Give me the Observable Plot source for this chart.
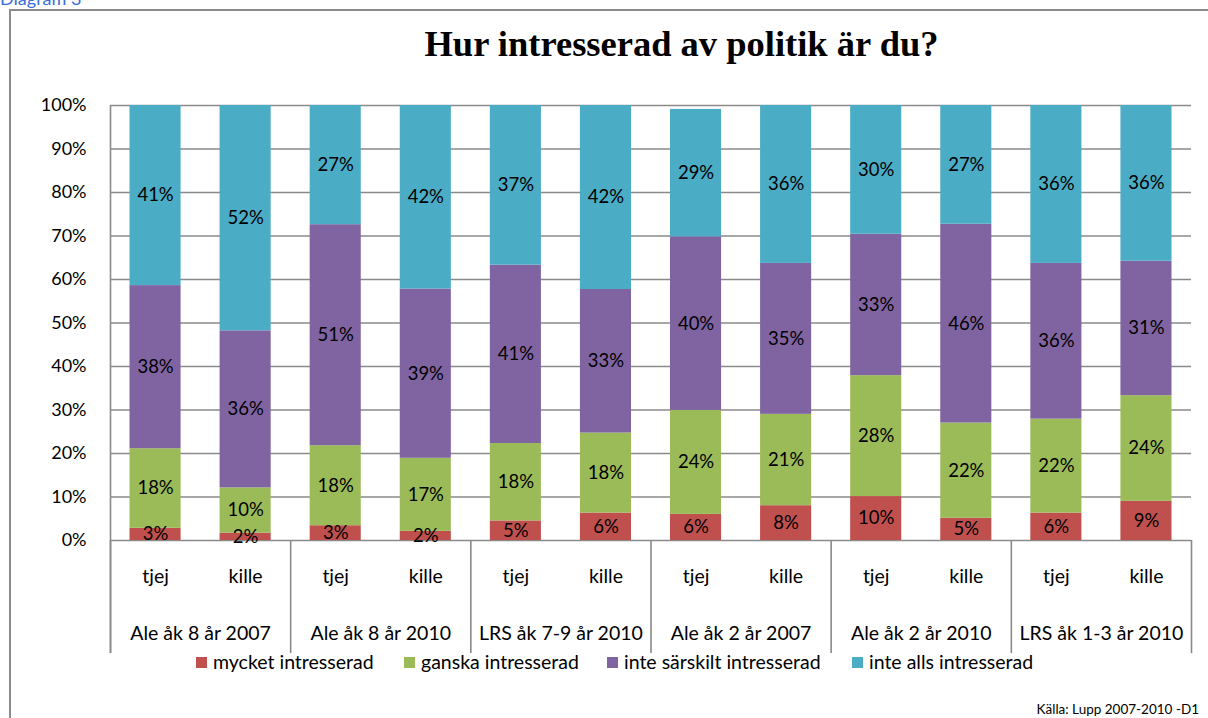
<!DOCTYPE html>
<html>
<head>
<meta charset="utf-8">
<script src="https://cdn.jsdelivr.net/npm/d3@7"></script>
<script src="https://cdn.jsdelivr.net/npm/@observablehq/plot@0.6"></script>
<style>
  html, body { margin: 0; padding: 0; background: #fff; }
  #wrap { position: relative; width: 1208px; height: 718px; overflow: hidden; font-family: Lato, sans-serif; color: #000; }
  #chart { position: absolute; left: 0; top: 0; }
  #frame { position: absolute; left: 9px; top: 9px; width: 1400px; height: 900px; border: 2px solid #8c8c8c; box-sizing: border-box; pointer-events: none; }
  #diag { position: absolute; left: 0px; top: -11px; font-size: 18px; color: #3b6fd8; line-height: 1; white-space: nowrap; }
  #title { position: absolute; left: 0; width: 1363px; top: 26px; text-align: center; font-family: "Liberation Serif", "DejaVu Serif", serif; font-weight: bold; font-size: 36.5px; line-height: 1; white-space: nowrap; }
  #legend { position: absolute; left: 0; top: 651px; font-size: 19.5px; line-height: 22px; white-space: nowrap; }
  #legend .item { position: absolute; top: 0; }
  #legend .sw { position: absolute; top: 6px; width: 11px; height: 11px; }
  #legend .lab { position: absolute; left: 17px; top: 0; }
  #source { position: absolute; right: 9px; top: 703px; font-size: 13.5px; line-height: 1; white-space: nowrap; }
</style>
</head>
<body>
<div id="wrap">
  <div id="chart"></div>
  <div id="frame"></div>
  <div id="diag">Diagram 3</div>
  <div id="title"></div>
  <div id="legend"></div>
  <div id="source"></div>
</div>
<script>
// ---- data ----
const title = "Hur intresserad av politik är du?";
const source = "Källa: Lupp 2007-2010 -D1";
const groups = ["Ale åk 8 år 2007", "Ale åk 8 år 2010", "LRS åk 7-9 år 2010", "Ale åk 2 år 2007", "Ale åk 2 år 2010", "LRS åk 1-3 år 2010"];
const sexes = ["tjej", "kille"];
const series = ["mycket intresserad", "ganska intresserad", "inte särskilt intresserad", "inte alls intresserad"];
const colors = ["#C0504D", "#9BBB59", "#8064A2", "#4BACC6"];
// one value per bar, in order: group1 tjej, group1 kille, group2 tjej, ...
const mycket       = [2.8, 1.7, 3.4, 2.1, 4.5, 6.3, 6.0, 8.0, 10.1, 5.1, 6.3, 9.0];
const ganska       = [18.3, 10.4, 18.4, 16.8, 17.8, 18.4, 23.9, 21.0, 27.8, 21.9, 21.6, 24.3];
const inteSarskilt = [37.5, 36.1, 50.8, 38.9, 41.0, 33.0, 39.9, 34.7, 32.5, 45.7, 35.8, 30.9];
const inteAlls     = [41.4, 51.8, 27.4, 42.2, 36.7, 42.3, 29.3, 36.3, 29.6, 27.3, 36.3, 35.8];
const yTicks = [0, 10, 20, 30, 40, 50, 60, 70, 80, 90, 100];

// ---- build table ----
const seriesValues = [mycket, ganska, inteSarskilt, inteAlls];
const bars = [];
groups.forEach((g, gi) => sexes.forEach((s, si) => bars.push({idx: gi * sexes.length + si, group: g, sex: s})));
const rows = [];
bars.forEach(b => series.forEach((name, k) => rows.push({idx: b.idx, series: name, value: seriesValues[k][b.idx]})));
const nBars = bars.length;
const boundaries = d3.range(0, nBars + 1, sexes.length);
const groupRows = groups.map((g, gi) => ({group: g, mid: gi * sexes.length + sexes.length / 2}));

const grid = "#8a8a8a";
const chart = Plot.plot({
  width: 1208,
  height: 718,
  marginLeft: 110,
  marginRight: 17,
  marginTop: 105,
  marginBottom: 178,
  style: {fontFamily: "Lato, sans-serif", fontSize: "18px", color: "#000", background: "transparent", overflow: "visible"},
  x: {domain: [0, nBars], axis: null},
  y: {domain: [0, 100], ticks: yTicks, tickFormat: d => d + "%", tickSize: 0, tickPadding: 24, label: null},
  color: {domain: series, range: colors},
  marks: [
    Plot.ruleY(yTicks, {stroke: grid, strokeWidth: 1.6}),
    Plot.ruleX([0], {y1: -26, y2: 100, stroke: grid, strokeWidth: 1.6}),
    Plot.ruleX(boundaries, {y1: -26, y2: 0, stroke: grid, strokeWidth: 1.6}),
    Plot.rectY(rows, Plot.stackY({x1: d => d.idx, x2: d => d.idx + 1, y: "value", fill: "series", insetLeft: 19.5, insetRight: 19.5})),
    Plot.text(rows, Plot.stackY({x: d => d.idx + 0.5, y: "value", text: d => Math.round(d.value) + "%", fill: "#000", fontSize: 18.5})),
    Plot.text(bars, {x: d => d.idx + 0.5, y: 0, dy: 36, text: "sex", fill: "#000", fontSize: 19.5}),
    Plot.text(groupRows, {x: "mid", y: 0, dy: 93, text: "group", fill: "#000", fontSize: 19.5})
  ]
});
document.getElementById("chart").appendChild(chart);

document.getElementById("title").textContent = title;
document.getElementById("source").textContent = source;

// legend
const legendX = [196, 404, 607, 852];
const leg = document.getElementById("legend");
series.forEach((name, k) => {
  const item = document.createElement("div");
  item.className = "item";
  item.style.left = legendX[k] + "px";
  const sw = document.createElement("div");
  sw.className = "sw";
  sw.style.background = colors[k];
  const lab = document.createElement("div");
  lab.className = "lab";
  lab.textContent = name;
  item.appendChild(sw);
  item.appendChild(lab);
  leg.appendChild(item);
});
</script>
</body>
</html>
